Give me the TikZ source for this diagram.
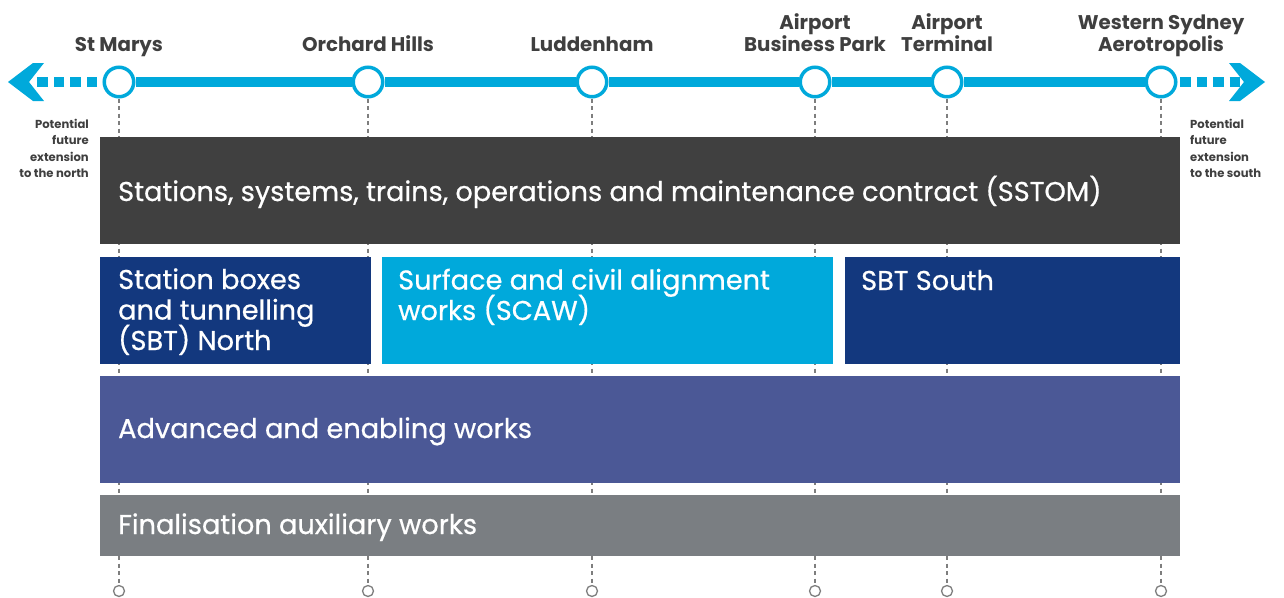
\documentclass[tikz,border=0pt]{standalone}
\usepackage{fontspec}
\setmainfont{Poppins}
\newfontfamily\medfont{Poppins}[FakeBold=0.6]
\newcommand\tightls{\lineskiplimit=-100pt\relax\lineskip=0pt\relax}
\definecolor{cyanl}{HTML}{00A9DB}
\definecolor{darkg}{HTML}{404040}
\definecolor{navy}{HTML}{13387E}
\definecolor{purp}{HTML}{4B5896}
\definecolor{greyb}{HTML}{7A7E82}
\definecolor{dashg}{HTML}{7E7E7E}
\definecolor{labg}{HTML}{3F3F3F}
\tikzset{
  stn/.style={circle, draw=cyanl, fill=white, line width=3.5pt, minimum size=29.5pt, inner sep=0pt},
  endc/.style={circle, draw=dashg, fill=white, line width=1.3pt, minimum size=11pt, inner sep=0pt},
  vdash/.style={draw=dashg, line width=2pt, dash pattern=on 4pt off 3.5pt},
  box/.style={rectangle, inner sep=0pt, anchor=north west},
  btxt/.style={anchor=base west, inner sep=0pt, text=white, font=\medfont\fontsize{27.2}{30.5}\selectfont\tightls, align=left},
  slab/.style={anchor=base, inner sep=0pt, text=labg, font=\bfseries\fontsize{19.8}{22}\selectfont\tightls, align=center},
  ptxt/.style={inner sep=0pt, text=labg, font=\bfseries\fontsize{11.6}{16.5}\selectfont},
  ext/.style={draw=cyanl, line width=10pt, dash pattern=on 10.5pt off 6pt},
}
\begin{document}
\begin{tikzpicture}[x=1pt,y=-1pt]
\useasboundingbox (0,0) rectangle (1284,597);
% stations
\foreach \i/\x in {1/119,2/368,3/592,4/815,5/947,6/1161}{
  \node[stn] (s\i) at (\x,82) {};
  \node[endc] (b\i) at (\x,591) {};
}
% vertical dashed connectors
\foreach \i in {1,...,6}{
  \draw[vdash] (s\i.south) -- (b\i.north);
}
% main line
\draw[cyanl, line width=10.5pt] (s1.east) -- (s2.west) (s2.east) -- (s3.west) (s3.east) -- (s4.west) (s4.east) -- (s5.west) (s5.east) -- (s6.west);
% extensions
\coordinate (lstart) at (97,82);
\coordinate (lend) at (36,82);
\coordinate (rstart) at (1180,82);
\coordinate (rend) at (1241,82);
\draw[ext] (lstart) -- (lend);
\draw[ext] (rstart) -- (rend);
\fill[cyanl] (8,82) -- (33,63) -- (44,63) -- (29,82) -- (44,101) -- (33,101) -- cycle;
\fill[cyanl] (1265,82) -- (1240,63) -- (1229,63) -- (1244,82) -- (1229,101) -- (1240,101) -- cycle;
% boxes
\node[box, fill=darkg, minimum width=1080pt, minimum height=107pt] (sstom) at (100,137) {};
\node[box, fill=navy, minimum width=271pt, minimum height=107pt] (sbtn) at (100,257) {};
\node[box, fill=cyanl, minimum width=451pt, minimum height=107pt] (scaw) at (382,257) {};
\node[box, fill=navy, minimum width=335pt, minimum height=107pt] (sbts) at (845,257) {};
\node[box, fill=purp, minimum width=1080pt, minimum height=107pt] (adv) at (100,376) {};
\node[box, fill=greyb, minimum width=1080pt, minimum height=61pt] (fin) at (100,495) {};
% box texts
\node[btxt] (tsstom) at (118,201) {Stations, systems, trains, operations and maintenance contract (SSTOM)};
\node[btxt] (tsbtn) at (118,350) {Station boxes\\and tunnelling\\(SBT) North};
\node[btxt] (tscaw) at (398,320) {Surface and civil alignment\\works (SCAW)};
\node[btxt] (tsbts) at (861,290) {SBT South};
\node[btxt] (tadv) at (118,438) {Advanced and enabling works};
\node[btxt] (tfin) at (118,534) {Finalisation auxiliary works};
% station labels
\node[slab] (l1) at (119,51) {St Marys};
\node[slab] (l2) at (368,51) {Orchard Hills};
\node[slab] (l3) at (592,51) {Luddenham};
\node[slab] (l4) at (815,51) {Airport\\Business Park};
\node[slab] (l5) at (947,51) {Airport\\Terminal};
\node[slab] (l6) at (1161,51) {Western Sydney\\Aerotropolis};
% potential extension labels
\node[ptxt, anchor=north east, align=right] (pn) at (89,119) {Potential\\future\\extension\\to the north};
\node[ptxt, anchor=north west, align=left] (ps) at (1190,119) {Potential\\future\\extension\\to the south};
\end{tikzpicture}
\end{document}
